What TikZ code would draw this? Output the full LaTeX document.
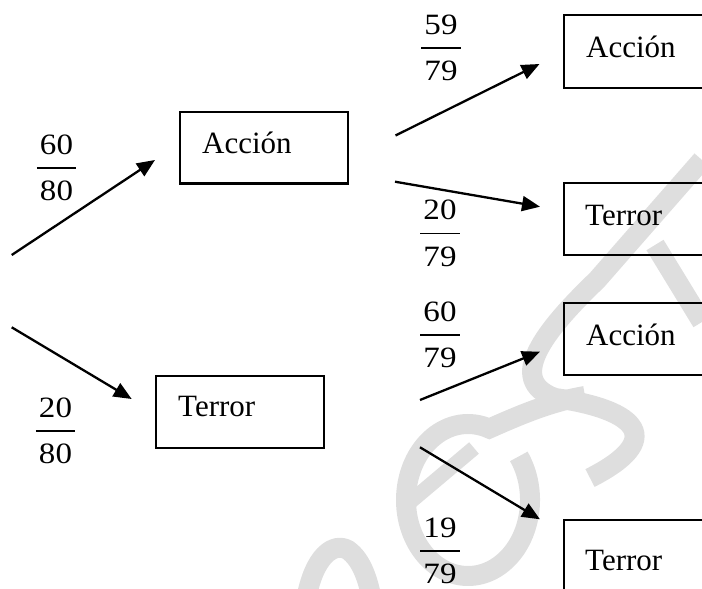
\documentclass[tikz,border=0pt]{standalone}
\usepackage{fontspec}
\setmainfont{Liberation Serif}
\usepackage{graphicx}
\usetikzlibrary{arrows.meta}
\newcommand\fracstack[2]{\scalebox{1.12}[1]{\vbox{\offinterlineskip\hbox to 35pt{\hss#1\hss}\kern12.5pt\hrule height 1.6pt\kern12.5pt\hbox to 35pt{\hss#2\hss}}}}
\tikzset{
  boxnode/.style={draw, line width=2.2pt, inner sep=0pt},
  lbl/.style={inner sep=0pt, anchor=base west, font=\fontsize{31}{34}\selectfont},
  frc/.style={inner sep=0pt, font=\fontsize{29.5}{31}\selectfont},
  arr/.style={line width=2.3pt, -{Triangle[length=18pt,width=15pt]}},
  wm/.style={draw=black!13, line width=20pt}
}
\begin{document}
\begin{tikzpicture}[x=1pt,y=-1pt]
\useasboundingbox (0,0) rectangle (702,589);
\clip (0,0) rectangle (702,589);
% watermark
\draw[wm] (306,600) .. controls (314,555) and (334,542) .. (348,550) .. controls (362,560) and (368,580) .. (372,600);
\draw[wm] (518.8,456.4) arc[start angle=-35, end angle=290, x radius=62, y radius=76]
  .. controls (520,415) and (550,402) .. (585,396);
\draw[wm, line width=15pt] (410,502) -- (474,448);
\draw[wm] (702,160) -- (597,280) .. controls (545,330) and (505,380) .. (555,398)
  .. controls (640,410) and (665,440) .. (590,478);
\draw[wm] (655,245) -- (702,322);
% boxes
\node[boxnode, minimum width=168pt, minimum height=71.5pt] (b1) at (264,147.7) {};
\node[boxnode, minimum width=168pt, minimum height=71.7pt] (b2) at (240,411.8) {};
\node[boxnode, minimum width=176pt, minimum height=73pt] (b3) at (652,51.5) {};
\node[boxnode, minimum width=176pt, minimum height=72pt] (b4) at (652,219) {};
\node[boxnode, minimum width=176pt, minimum height=72pt] (b5) at (652,339) {};
\node[boxnode, minimum width=176pt, minimum height=80pt] (b6) at (652,560) {};
% labels
\node[lbl] (t1) at (202,153) {Acción};
\node[lbl] (t2) at (178,416.7) {Terror};
\node[lbl] (t3) at (586,57) {Acción};
\node[lbl] (t4) at (585,225) {Terror};
\node[lbl] (t5) at (586,345) {Acción};
\node[lbl] (t6) at (585,570) {Terror};
% fractions
\node[frc] (f1) at (56.5,167.7) {\fracstack{60}{80}};
\node[frc] (f2) at (55.5,431) {\fracstack{20}{80}};
\node[frc] (f3) at (441,47.7) {\fracstack{59}{79}};
\node[frc] (f4) at (440,233.3) {\fracstack{20}{79}};
\node[frc] (f5) at (440,335) {\fracstack{60}{79}};
\node[frc] (f6) at (440,551) {\fracstack{19}{79}};
% arrow ends
\coordinate (a1s) at (11.7,255);   \coordinate (a1e) at (155,160);
\coordinate (a2s) at (11.7,327.3); \coordinate (a2e) at (131.7,399);
\coordinate (a3s) at (395.5,135.5);\coordinate (a3e) at (539.5,64);
\coordinate (a4s) at (395,181.7);  \coordinate (a4e) at (540,206.7);
\coordinate (a5s) at (420,400);    \coordinate (a5e) at (540,351.7);
\coordinate (a6s) at (420,447.3);  \coordinate (a6e) at (540,519.3);
\draw[arr] (a1s) -- (a1e);
\draw[arr] (a2s) -- (a2e);
\draw[arr] (a3s) -- (a3e);
\draw[arr] (a4s) -- (a4e);
\draw[arr] (a5s) -- (a5e);
\draw[arr] (a6s) -- (a6e);
\end{tikzpicture}
\end{document}
